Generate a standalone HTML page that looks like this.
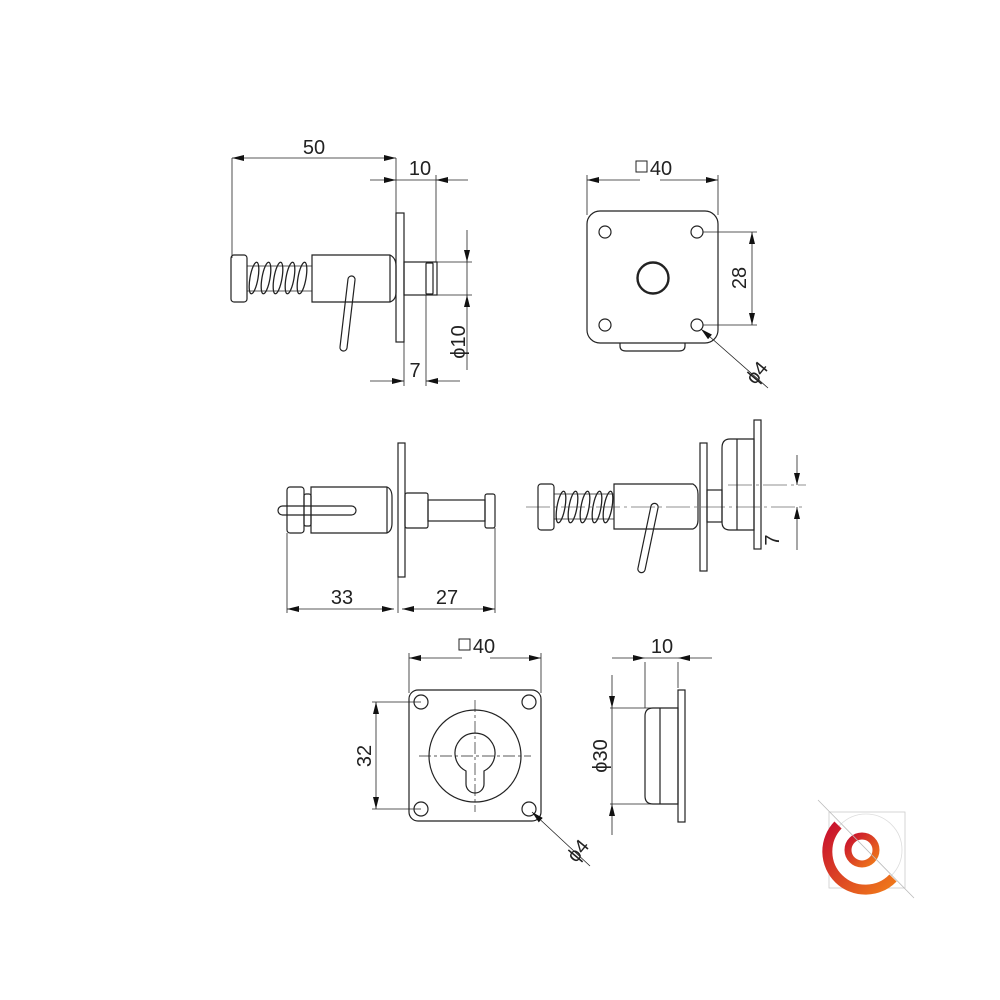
<!DOCTYPE html>
<html><head><meta charset="utf-8"><style>
html,body{margin:0;padding:0;background:#fff}
svg{display:block}
text{font-family:"Liberation Sans",sans-serif;fill:#222}
</style></head><body>
<svg width="1000" height="1000" viewBox="0 0 1000 1000" xmlns="http://www.w3.org/2000/svg">
<defs>
<marker id="a" viewBox="0 0 12 6" refX="12" refY="3" markerWidth="12" markerHeight="6" orient="auto" markerUnits="userSpaceOnUse"><path d="M0,0 L12,3 L0,6Z" fill="#111"/></marker>
<linearGradient id="g" x1="0" y1="0" x2="1" y2="1"><stop offset="0" stop-color="#c8102e"/><stop offset="1" stop-color="#f07a1a"/></linearGradient>
</defs>
<g stroke="#222" stroke-width="1.2" fill="none">
<!-- VIEW 1 -->
<line x1="232" y1="158" x2="232" y2="258" stroke-width="0.8"/>
<line x1="396" y1="158" x2="396" y2="213" stroke-width="0.8"/>
<line x1="300" y1="158" x2="396" y2="158" stroke-width="0.8" marker-end="url(#a)"/>
<line x1="300" y1="158" x2="232" y2="158" stroke-width="0.8" marker-end="url(#a)"/>
<line x1="370" y1="180" x2="396" y2="180" stroke-width="0.8" marker-end="url(#a)"/>
<line x1="468" y1="180" x2="436" y2="180" stroke-width="0.8" marker-end="url(#a)"/>
<line x1="396" y1="180" x2="436" y2="180" stroke-width="0.8"/>
<line x1="436" y1="175" x2="436" y2="262" stroke-width="0.8"/>
<rect x="396" y="213" width="8" height="129"/>
<path d="M312,255 H390 Q396,258 396,266 V292 Q396,300 390,302 H312 Z"/>
<line x1="390" y1="255" x2="390" y2="302"/>
<rect x="404" y="262" width="33" height="33"/>
<rect x="426" y="263" width="7" height="31" rx="1"/>
<rect x="231" y="255" width="16" height="47" rx="3"/>
<line x1="247" y1="266" x2="312" y2="266" stroke-width="0.8"/>
<line x1="247" y1="291" x2="312" y2="291" stroke-width="0.8"/>
<g stroke-width="1.3">
<ellipse cx="254" cy="278" rx="4" ry="16" transform="rotate(10 254 278)"/>
<ellipse cx="266" cy="278" rx="4" ry="16" transform="rotate(10 266 278)"/>
<ellipse cx="278" cy="278" rx="4" ry="16" transform="rotate(10 278 278)"/>
<ellipse cx="290" cy="278" rx="4" ry="16" transform="rotate(10 290 278)"/>
<ellipse cx="302" cy="278" rx="4" ry="16" transform="rotate(10 302 278)"/>
</g>
<path d="M348,279 L340,347 M355,280 L347,348" />
<path d="M348,279 A3.5,3.5 0 0 1 355,280 M340,347 A3.5,3.5 0 0 0 347,348"/>
<line x1="437" y1="262" x2="472" y2="262" stroke-width="0.8"/>
<line x1="437" y1="295" x2="472" y2="295" stroke-width="0.8"/>
<line x1="467" y1="230" x2="467" y2="262" stroke-width="0.8" marker-end="url(#a)"/>
<line x1="467" y1="370" x2="467" y2="295" stroke-width="0.8" marker-end="url(#a)"/>
<line x1="467" y1="262" x2="467" y2="295" stroke-width="0.8"/>
<line x1="404" y1="342" x2="404" y2="386" stroke-width="0.8"/>
<line x1="426" y1="295" x2="426" y2="386" stroke-width="0.8"/>
<line x1="370" y1="381" x2="404" y2="381" stroke-width="0.8" marker-end="url(#a)"/>
<line x1="460" y1="381" x2="426" y2="381" stroke-width="0.8" marker-end="url(#a)"/>

<!-- VIEW 2 -->
<line x1="587" y1="175" x2="587" y2="215" stroke-width="0.8"/>
<line x1="718" y1="175" x2="718" y2="215" stroke-width="0.8"/>
<line x1="640" y1="180" x2="587" y2="180" stroke-width="0.8" marker-end="url(#a)"/>
<line x1="660" y1="180" x2="718" y2="180" stroke-width="0.8" marker-end="url(#a)"/>
<rect x="587" y="211" width="131" height="132" rx="13"/>
<path d="M620,343 v3 q0,5 6,5 h53 q6,0 6,-5 v-3"/>
<circle cx="605" cy="232" r="6"/><circle cx="697" cy="232" r="6"/>
<circle cx="605" cy="325" r="6"/><circle cx="697" cy="325" r="6"/>
<circle cx="653" cy="278" r="15.5" stroke-width="2.4"/>
<line x1="703" y1="232" x2="757" y2="232" stroke-width="0.8"/>
<line x1="703" y1="325" x2="757" y2="325" stroke-width="0.8"/>
<line x1="752" y1="280" x2="752" y2="232" stroke-width="0.8" marker-end="url(#a)"/>
<line x1="752" y1="280" x2="752" y2="325" stroke-width="0.8" marker-end="url(#a)"/>
<line x1="768" y1="388" x2="701" y2="329" stroke-width="0.8" marker-end="url(#a)"/>

<!-- VIEW 3 -->
<rect x="398" y="443" width="7" height="134"/>
<path d="M311,487 H387 Q392,489 392,497 V523 Q392,531 387,533 H311 Z"/>
<line x1="387" y1="487" x2="387" y2="533"/>
<rect x="287" y="487" width="17" height="46" rx="3"/>
<rect x="304" y="494" width="7" height="32" rx="2"/>
<rect x="278" y="506" width="78" height="9" rx="4.5"/>
<rect x="405" y="493" width="23" height="35" rx="2"/>
<rect x="428" y="500" width="57" height="21"/>
<rect x="485" y="494" width="10" height="34" rx="2"/>
<line x1="287" y1="533" x2="287" y2="613" stroke-width="0.8"/>
<line x1="398" y1="577" x2="398" y2="613" stroke-width="0.8"/>
<line x1="495" y1="528" x2="495" y2="613" stroke-width="0.8"/>
<line x1="340" y1="609" x2="287" y2="609" stroke-width="0.8" marker-end="url(#a)"/>
<line x1="340" y1="609" x2="394" y2="609" stroke-width="0.8" marker-end="url(#a)"/>
<line x1="445" y1="609" x2="402" y2="609" stroke-width="0.8" marker-end="url(#a)"/>
<line x1="445" y1="609" x2="495" y2="609" stroke-width="0.8" marker-end="url(#a)"/>

<!-- VIEW 4 -->
<line x1="526" y1="507" x2="806" y2="507" stroke-width="0.6" stroke-dasharray="24,4,3,4"/>
<line x1="728" y1="485" x2="806" y2="485" stroke-width="0.6" stroke-dasharray="24,4,3,4"/>
<rect x="538" y="484" width="16" height="46" rx="3"/>
<line x1="554" y1="494" x2="614" y2="494" stroke-width="0.8"/>
<line x1="554" y1="519" x2="614" y2="519" stroke-width="0.8"/>
<g stroke-width="1.3">
<ellipse cx="561" cy="507" rx="4" ry="16" transform="rotate(10 561 507)"/>
<ellipse cx="573" cy="507" rx="4" ry="16" transform="rotate(10 573 507)"/>
<ellipse cx="585" cy="507" rx="4" ry="16" transform="rotate(10 585 507)"/>
<ellipse cx="597" cy="507" rx="4" ry="16" transform="rotate(10 597 507)"/>
<ellipse cx="608" cy="507" rx="4" ry="16" transform="rotate(10 608 507)"/>
</g>
<path d="M614,484 H693 Q698,487 698,494 V520 Q698,527 693,529 H614 Z"/>
<rect x="700" y="443" width="7" height="128"/>
<rect x="707" y="490" width="15" height="32"/>
<path d="M754,439 H730 Q722,439 722,448 V522 Q722,530 730,530 H754 Z"/>
<line x1="737" y1="439" x2="737" y2="530"/>
<rect x="754" y="420" width="7" height="129"/>
<path d="M651,506 L638,568 M658,508 L645,570"/>
<path d="M651,506 A3.5,3.5 0 0 1 658,508 M638,568 A3.5,3.5 0 0 0 645,570"/>
<line x1="797" y1="455" x2="797" y2="485" stroke-width="0.8" marker-end="url(#a)"/>
<line x1="797" y1="550" x2="797" y2="507" stroke-width="0.8" marker-end="url(#a)"/>

<!-- VIEW 5 -->
<line x1="409" y1="653" x2="409" y2="693" stroke-width="0.8"/>
<line x1="541" y1="653" x2="541" y2="693" stroke-width="0.8"/>
<line x1="462" y1="658" x2="409" y2="658" stroke-width="0.8" marker-end="url(#a)"/>
<line x1="490" y1="658" x2="541" y2="658" stroke-width="0.8" marker-end="url(#a)"/>
<rect x="409" y="690" width="132" height="131" rx="9"/>
<circle cx="421" cy="702" r="7"/><circle cx="529" cy="702" r="7"/>
<circle cx="421" cy="809" r="7"/><circle cx="529" cy="809" r="7"/>
<circle cx="475" cy="756" r="46"/>
<path d="M466,771 A20,20 0 1 1 484,771 L484,784 A9,9 0 0 1 466,784 Z"/>
<line x1="419" y1="756" x2="531" y2="756" stroke-width="0.7" stroke-dasharray="12,3,3,3"/>
<line x1="475" y1="700" x2="475" y2="812" stroke-width="0.7" stroke-dasharray="12,3,3,3"/>
<line x1="372" y1="702" x2="421" y2="702" stroke-width="0.8"/>
<line x1="372" y1="809" x2="421" y2="809" stroke-width="0.8"/>
<line x1="376" y1="756" x2="376" y2="702" stroke-width="0.8" marker-end="url(#a)"/>
<line x1="376" y1="756" x2="376" y2="809" stroke-width="0.8" marker-end="url(#a)"/>
<line x1="590" y1="866" x2="532" y2="812" stroke-width="0.8" marker-end="url(#a)"/>

<!-- VIEW 6 -->
<rect x="678" y="690" width="7" height="132"/>
<path d="M678,708 H653 Q645,708 645,716 V796 Q645,804 653,804 H678 Z"/>
<line x1="660" y1="708" x2="660" y2="804"/>
<line x1="645" y1="662" x2="645" y2="708" stroke-width="0.8"/>
<line x1="678" y1="662" x2="678" y2="688" stroke-width="0.8"/>
<line x1="612" y1="658" x2="645" y2="658" stroke-width="0.8" marker-end="url(#a)"/>
<line x1="712" y1="658" x2="678" y2="658" stroke-width="0.8" marker-end="url(#a)"/>
<line x1="645" y1="658" x2="678" y2="658" stroke-width="0.8"/>
<line x1="610" y1="708" x2="678" y2="708" stroke-width="0.8"/>
<line x1="610" y1="804" x2="678" y2="804" stroke-width="0.8"/>
<line x1="612" y1="675" x2="612" y2="708" stroke-width="0.8" marker-end="url(#a)"/>
<line x1="612" y1="835" x2="612" y2="804" stroke-width="0.8" marker-end="url(#a)"/>
<line x1="612" y1="708" x2="612" y2="804" stroke-width="0.8"/>
</g>

<!-- labels -->
<g font-size="20">
<text x="314" y="154" text-anchor="middle">50</text>
<text x="420" y="175" text-anchor="middle">10</text>
<text x="415" y="377" text-anchor="middle">7</text>
<text transform="translate(465,342) rotate(-90)" text-anchor="middle">ϕ10</text>
<text x="661" y="175" text-anchor="middle">40</text>
<text transform="translate(746,278) rotate(-90)" text-anchor="middle">28</text>
<text transform="translate(762,377) rotate(-50)" text-anchor="middle">ϕ4</text>
<text x="342" y="604" text-anchor="middle">33</text>
<text x="447" y="604" text-anchor="middle">27</text>
<text transform="translate(779,540) rotate(-90)" text-anchor="middle">7</text>
<text x="484" y="653" text-anchor="middle">40</text>
<text transform="translate(371,756) rotate(-90)" text-anchor="middle">32</text>
<text transform="translate(583,855) rotate(-50)" text-anchor="middle">ϕ4</text>
<text x="662" y="653" text-anchor="middle">10</text>
<text transform="translate(607,756) rotate(-90)" text-anchor="middle">ϕ30</text>
</g>
<rect x="636" y="161" width="11" height="11" fill="none" stroke="#222" stroke-width="1"/>
<rect x="459" y="639" width="11" height="11" fill="none" stroke="#222" stroke-width="1"/>

<!-- logo -->
<g>
<rect x="829" y="812" width="76" height="76" fill="none" stroke="#ccc" stroke-width="0.8"/>
<circle cx="866" cy="850" r="36" fill="none" stroke="#ddd" stroke-width="0.8"/>
<path d="M838,825 A35,35 0 0 0 893,878" fill="none" stroke="url(#g)" stroke-width="10"/>
<circle cx="862" cy="850" r="14" fill="none" stroke="url(#g)" stroke-width="7"/>
<line x1="818" y1="800" x2="914" y2="898" stroke="#bbb" stroke-width="0.8"/>
</g>
</svg>
</body></html>
